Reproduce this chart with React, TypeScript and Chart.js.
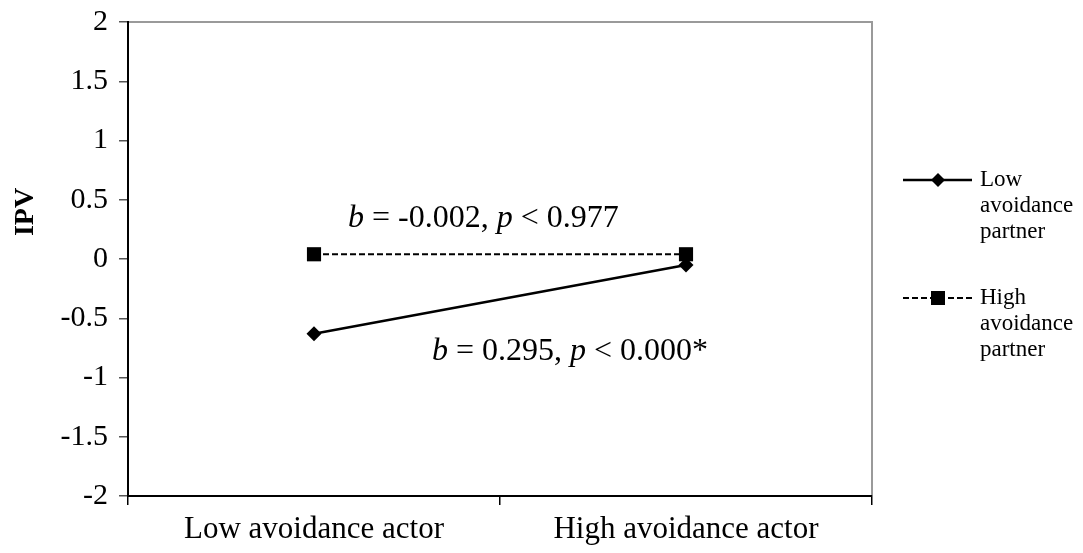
import React, { useEffect, useRef } from "react";
import { Chart, registerables } from "chart.js";

Chart.register(...registerables);

const categories = ["Low avoidance actor", "High avoidance actor"];
const lowAvoidancePartner = [-0.63, -0.05];
const highAvoidancePartner = [0.04, 0.04];
const legendLow = ["Low", "avoidance", "partner"];
const legendHigh = ["High", "avoidance", "partner"];
const yTickValues = [-2, -1.5, -1, -0.5, 0, 0.5, 1, 1.5, 2];
const yTitle = "IPV";
const annotationTop = [
  { t: "b", i: true },
  { t: " = -0.002, ", i: false },
  { t: "p", i: true },
  { t: " < 0.977", i: false },
];
const annotationBottom = [
  { t: "b", i: true },
  { t: " = 0.295, ", i: false },
  { t: "p", i: true },
  { t: " < 0.000*", i: false },
];

const FONT = "'Liberation Serif', 'Times New Roman', serif";

function drawRich(ctx: CanvasRenderingContext2D, parts: { t: string; i: boolean }[], x: number, y: number, size: number) {
  let cx = x;
  ctx.textAlign = "left";
  ctx.textBaseline = "alphabetic";
  for (const p of parts) {
    ctx.font = `${p.i ? "italic " : ""}${size}px ${FONT}`;
    ctx.fillText(p.t, cx, y);
    cx += ctx.measureText(p.t).width;
  }
}

const overlayPlugin = {
  id: "overlay",
  afterDraw(chart: any) {
    const { ctx, chartArea: a } = chart;
    ctx.save();
    ctx.strokeStyle = "#9a9a9a";
    ctx.lineWidth = 2;
    ctx.beginPath();
    ctx.moveTo(a.left + 1, a.top);
    ctx.lineTo(a.right, a.top);
    ctx.lineTo(a.right, a.bottom - 1);
    ctx.stroke();

    ctx.fillStyle = "#000";
    drawRich(ctx, annotationTop, 348, 227, 32);
    drawRich(ctx, annotationBottom, 432, 360, 32);

    ctx.save();
    ctx.translate(26, 212);
    ctx.rotate(-Math.PI / 2);
    ctx.font = `bold 28px ${FONT}`;
    ctx.textAlign = "center";
    ctx.textBaseline = "middle";
    ctx.fillText(yTitle, 0, 0);
    ctx.restore();

    const drawEntry = (y: number, lines: string[], dashed: boolean) => {
      ctx.strokeStyle = "#000";
      ctx.lineWidth = dashed ? 2 : 2.5;
      ctx.setLineDash(dashed ? [6, 3] : []);
      ctx.beginPath();
      ctx.moveTo(903, y);
      ctx.lineTo(972, y);
      ctx.stroke();
      ctx.setLineDash([]);
      const mx = 938;
      ctx.beginPath();
      if (dashed) {
        ctx.rect(mx - 7, y - 7, 14, 14);
      } else {
        ctx.moveTo(mx, y - 7);
        ctx.lineTo(mx + 7, y);
        ctx.lineTo(mx, y + 7);
        ctx.lineTo(mx - 7, y);
        ctx.closePath();
      }
      ctx.fill();
      ctx.font = `23px ${FONT}`;
      ctx.textAlign = "left";
      ctx.textBaseline = "middle";
      lines.forEach((l, k) => ctx.fillText(l, 980, y + k * 26));
    };
    drawEntry(180, legendLow, false);
    drawEntry(298, legendHigh, true);
    ctx.restore();
  },
};

export default function App() {
  const ref = useRef<HTMLCanvasElement | null>(null);
  useEffect(() => {
    if (!ref.current) return;
    const chart = new Chart(ref.current, {
      type: "line",
      data: {
        labels: categories,
        datasets: [
          {
            label: "Low avoidance partner",
            data: lowAvoidancePartner,
            borderColor: "#000",
            backgroundColor: "#000",
            borderWidth: 2.5,
            pointStyle: "rectRot",
            pointRadius: 7.5,
            pointBackgroundColor: "#000",
            pointBorderColor: "#000",
            pointBorderWidth: 0,
            tension: 0,
          },
          {
            label: "High avoidance partner",
            data: highAvoidancePartner,
            borderColor: "#000",
            backgroundColor: "#000",
            borderWidth: 2,
            borderDash: [6, 3],
            pointStyle: "rect",
            pointRadius: 10,
            pointBackgroundColor: "#000",
            pointBorderColor: "#000",
            pointBorderWidth: 0,
            tension: 0,
          },
        ],
      },
      options: {
        responsive: false,
        animation: false,
        devicePixelRatio: 1,
        layout: { padding: { left: 0, top: 22, right: 211, bottom: 0 } },
        plugins: { legend: { display: false }, tooltip: { enabled: false } },
        scales: {
          x: {
            type: "category",
            offset: true,
            grid: {
              offset: true,
              drawOnChartArea: false,
              drawTicks: true,
              tickLength: 9,
              color: "#000",
              lineWidth: 1.5,
            },
            border: { color: "#000", width: 2 },
            ticks: {
              color: "#000",
              font: { family: FONT, size: 31 },
              padding: 6,
              maxRotation: 0,
              autoSkip: false,
            },
            afterFit: (s: any) => {
              s.height = 57;
              s.paddingLeft = 0;
              s.paddingRight = 0;
            },
          },
          y: {
            min: -2,
            max: 2,
            afterBuildTicks: (s: any) => {
              s.ticks = yTickValues.map((v) => ({ value: v }));
            },
            grid: {
              drawOnChartArea: false,
              drawTicks: true,
              tickLength: 9,
              color: "#555",
              lineWidth: 1.5,
            },
            border: { color: "#000", width: 2 },
            ticks: {
              color: "#000",
              font: { family: FONT, size: 30 },
              padding: 11,
              callback: (v: any) => String(v),
            },
            afterFit: (s: any) => {
              s.width = 128;
              s.paddingTop = 0;
              s.paddingBottom = 0;
            },
          },
        },
      },
      plugins: [overlayPlugin],
    });
    return () => chart.destroy();
  }, []);
  return (
    <div style={{ position: "absolute", left: 0, top: 0, width: 1083, height: 553, background: "#fff" }}>
      <canvas ref={ref} width={1083} height={553} style={{ width: 1083, height: 553 }} />
    </div>
  );
}
